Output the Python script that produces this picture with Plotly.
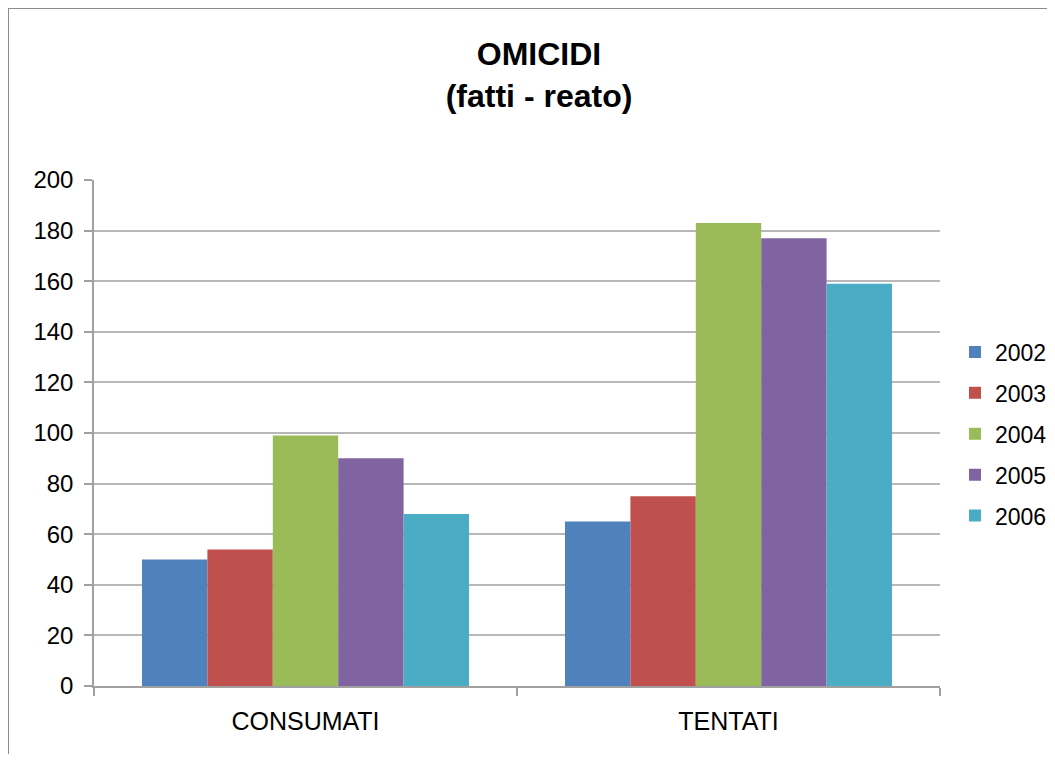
import plotly.graph_objects as go

categories = ["CONSUMATI", "TENTATI"]
years = ["2002", "2003", "2004", "2005", "2006"]
values_2002 = [50, 65]
values_2003 = [54, 75]
values_2004 = [99, 183]
values_2005 = [90, 177]
values_2006 = [68, 159]
colors = ["#4F81BD", "#C0504D", "#9BBB59", "#8064A2", "#4BACC6"]
y_ticks = list(range(0, 201, 20))

series = [values_2002, values_2003, values_2004, values_2005, values_2006]

FONT = "Liberation Sans, Arial, sans-serif"

fig = go.Figure()
for name, vals, col in zip(years, series, colors):
    fig.add_trace(go.Bar(
        x=categories, y=vals, name=name, legendgroup=name,
        marker=dict(color=col, line=dict(width=0)),
    ))

# page has an 8px body margin; size the figure so it fits the window
OFF = 8
W, H = 1055 - 2 * OFF, 762 - 2 * OFF
PL, PR, PT, PB = 94 - OFF, 940 - OFF, 180 - OFF, 686 - OFF
L, R, T, B = PL, W - PR, PT, H - PB
pw, ph = PR - PL, PB - PT

def px(x):
    return (x - OFF - PL) / pw

def py(y):
    return (PB - (y - OFF)) / ph

fig.update_layout(
    width=W, height=H,
    margin=dict(l=L, r=R, t=T, b=B, autoexpand=False),
    paper_bgcolor="white", plot_bgcolor="white",
    font=dict(family=FONT, size=24, color="black"),
    barmode="group", bargap=0.227, bargroupgap=0,
    title=dict(
        text="<b>OMICIDI</b><br><b>(fatti - reato)</b>",
        x=px(539), xref="paper", xanchor="center",
        y=1 - (65 - OFF) / H, yanchor="top",
        font=dict(family=FONT, size=32, color="black"),
    ),
    legend=dict(
        x=(955 - OFF) / W, xref="container", xanchor="left",
        y=py(434), yanchor="middle",
        font=dict(family=FONT, size=23, color="black"),
        tracegroupgap=8, traceorder="grouped",
        bgcolor="rgba(0,0,0,0)",
    ),
    xaxis=dict(
        showgrid=False, showline=True, linecolor="#A0A0A0", linewidth=1.5,
        ticks="outside", tickson="boundaries", ticklen=8, tickcolor="#A0A0A0",
        tickwidth=1.5, tickfont=dict(size=25), ticklabelstandoff=12,
    ),
    yaxis=dict(
        range=[0, 200], tickvals=y_ticks, showgrid=True,
        gridcolor="#B8B8B8", gridwidth=1.5,
        showline=True, linecolor="#A0A0A0", linewidth=1.5,
        ticks="outside", ticklen=8, tickcolor="#A0A0A0", tickwidth=1.5,
        tickfont=dict(size=24), ticklabelstandoff=6, zeroline=False,
    ),
    shapes=[dict(
        type="rect", xref="paper", yref="paper",
        x0=px(8), x1=px(1055 + 30),
        y0=py(762 + 30), y1=py(8),
        line=dict(color="#8C8C8C", width=2), fillcolor="rgba(0,0,0,0)",
        layer="below",
    )],
)

fig.write_html("out.html")
